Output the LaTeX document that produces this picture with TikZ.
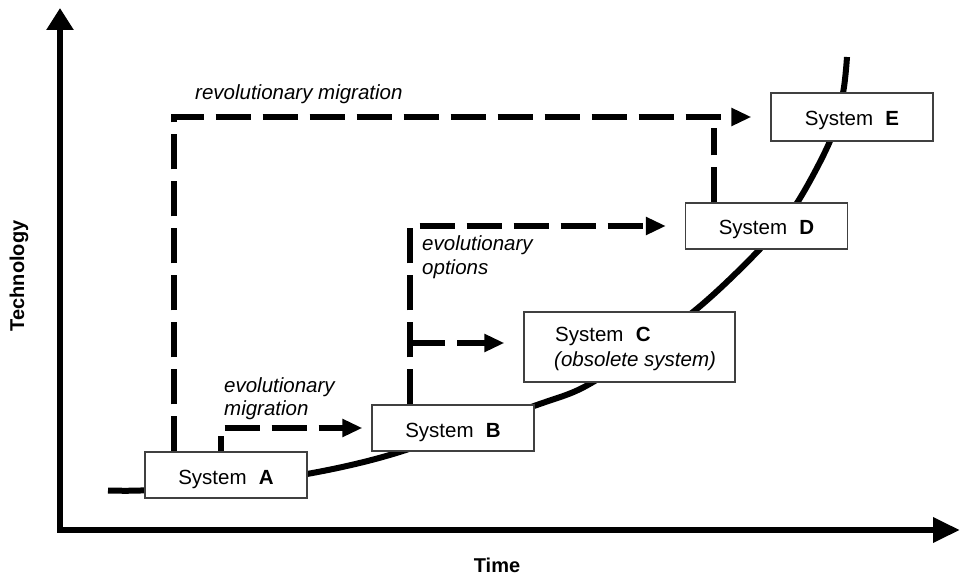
\documentclass[tikz,border=0pt]{standalone}
\usepackage{fontspec}
\setmainfont{Liberation Sans}
\usetikzlibrary{arrows.meta}
\begin{document}
\begin{tikzpicture}[x=1pt,y=1pt,
  font=\fontsize{20.5}{24}\selectfont,
  sysbox/.style={draw=black!75, line width=1.2pt, fill=white,
    minimum width=162pt, minimum height=46pt, inner sep=0pt,
    text height=18pt, text depth=0pt},
  dashlink/.style={line width=5.5pt, dash pattern=on 35pt off 12pt},
  dasharrow/.style={dashlink, -{Triangle[length=20pt,width=17pt]}},
  lbl/.style={anchor=base west, inner sep=0pt,
    font=\fontsize{20.5}{24}\selectfont\itshape},
  txt/.style={anchor=base west, inner sep=0pt},
  axis/.style={line width=6.5pt, line join=miter},
  axislbl/.style={inner sep=0pt, font=\fontsize{20}{24}\selectfont\bfseries}
]
\useasboundingbox (0,0) rectangle (961,579);

% axes
\coordinate (origin) at (60,49);
\coordinate (ytip) at (60,571);
\coordinate (xtip) at (960,49);
\draw[axis, {Triangle[length=22pt,width=26pt]}-{Triangle[length=27pt,width=24pt]}]
  (ytip) |- (xtip);
\node[axislbl, rotate=90] (tech) at (19,303) {Technology};
\node[axislbl] (time) at (497,14) {Time};

% technology growth curve
\draw[line width=6pt] plot[smooth] coordinates {
  (108,88.5) (145,88.7) (226,95) (307,105) (393,125) (534,173) (593,197)
  (693,267) (760,330) (797,376) (830,438) (843,486) (847,522)};

% systems
\node[sysbox] (A) at (226,104) {System\hspace{.6em}\textbf{A}};
\node[sysbox] (B) at (453,151) {System\hspace{.6em}\textbf{B}};
\node[sysbox, minimum width=211pt, minimum height=70pt] (C) at (629.5,232) {};
\node[txt] (Ct1) at (555,237) {System\hspace{.6em}\textbf{C}};
\node[txt] (Ct2) at (554,213) {\itshape(obsolete system)};
\node[sysbox] (D) at (766.5,353) {System\hspace{.6em}\textbf{D}};
\node[sysbox, minimum height=48pt] (E) at (852,462) {System\hspace{.6em}\textbf{E}};

% migration paths
\draw[dasharrow, shorten >=19pt] ([xshift=-52pt]A.north) |- (E.west);
\draw[dashlink, shorten >=11pt] ([xshift=-52.5pt]D.north) -- ([xshift=-52.5pt]D.north |- E.west);
\draw[dasharrow, shorten >=9pt, dash phase=20pt] ([xshift=-5pt]A.north) |- (B.west);
\draw[dasharrow, shorten >=19pt] ([xshift=-43pt]B.north) |- (D.west);
\coordinate (fork) at (410,236);
\draw[dasharrow, shorten >=19pt] (fork) -- (fork -| C.west);

% labels
\node[lbl] (revlbl) at (195,479) {revolutionary migration};
\node[lbl] (evoA1) at (224,187) {evolutionary};
\node[lbl] (evoA2) at (224,164) {migration};
\node[lbl] (evoB1) at (422,328) {evolutionary};
\node[lbl] (evoB2) at (422,304) {options};
\end{tikzpicture}
\end{document}
